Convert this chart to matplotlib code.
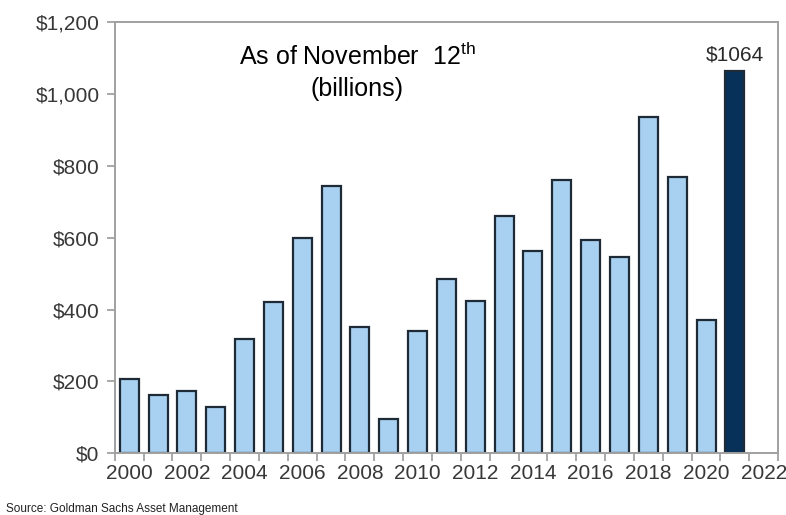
import numpy as np
import matplotlib.pyplot as plt

plt.rcParams['font.family'] = ['Liberation Sans', 'DejaVu Sans']
plt.rcParams['mathtext.fontset'] = 'custom'
plt.rcParams['mathtext.rm'] = 'Liberation Sans'

years = list(range(2000, 2022))
values = [206, 162, 173, 128, 318, 421, 599, 744, 351, 95, 340,
          485, 423, 660, 563, 760, 593, 546, 936, 769, 370, 1064]
tick_years = list(range(2000, 2023, 2))

light = '#A8D0F0'
dark = '#08315A'
edge = '#1E2B36'

fig = plt.figure(figsize=(7.86, 5.15), dpi=100)
ax = fig.add_axes([0.146, 0.120, 0.844, 0.837])

colors = [light] * (len(years) - 1) + [dark]
ax.bar(years, values, width=0.66, color=colors, edgecolor=edge, linewidth=1.6, zorder=2)

# label on the latest bar
ax.text(years[-1], values[-1] + 18, '$' + str(values[-1]), ha='center', va='bottom',
        fontsize=15, color='#2A2A2A')

ax.text(2007.9, 1105, r'As of November  12$^{\mathrm{th}}$', ha='center', va='center',
        fontsize=18, color='black')
ax.text(2007.9, 1015, '(billions)', ha='center', va='center', fontsize=18, color='black')

ax.set_xlim(1999.5, 2022.5)
ax.set_ylim(0, 1200)
ax.set_yticks(np.arange(0, 1201, 200))
ax.set_yticklabels(['$0', '$200', '$400', '$600', '$800', '$1,000', '$1,200'])
ax.set_xticks(tick_years)
ax.set_xticklabels([str(y) for y in tick_years])

# tick marks sit between categories, labels under every other bar
ax.set_xticks(np.arange(1999.5, 2023, 1), minor=True)
ax.tick_params(axis='x', which='major', length=0, pad=8)
ax.tick_params(axis='x', which='minor', length=6, color='#999999', width=1.2)
ax.tick_params(axis='y', length=6, color='#999999', width=1.2, pad=5)
ax.tick_params(labelsize=15, labelcolor='#383838')

for s in ax.spines.values():
    s.set_color('#A0A0A0')
    s.set_linewidth(1.4)

fig.text(0.008, 0.0, 'Source: Goldman Sachs Asset Management', fontsize=8.5,
         color='#222222', ha='left', va='bottom')

fig.savefig('out.png', dpi=100)
